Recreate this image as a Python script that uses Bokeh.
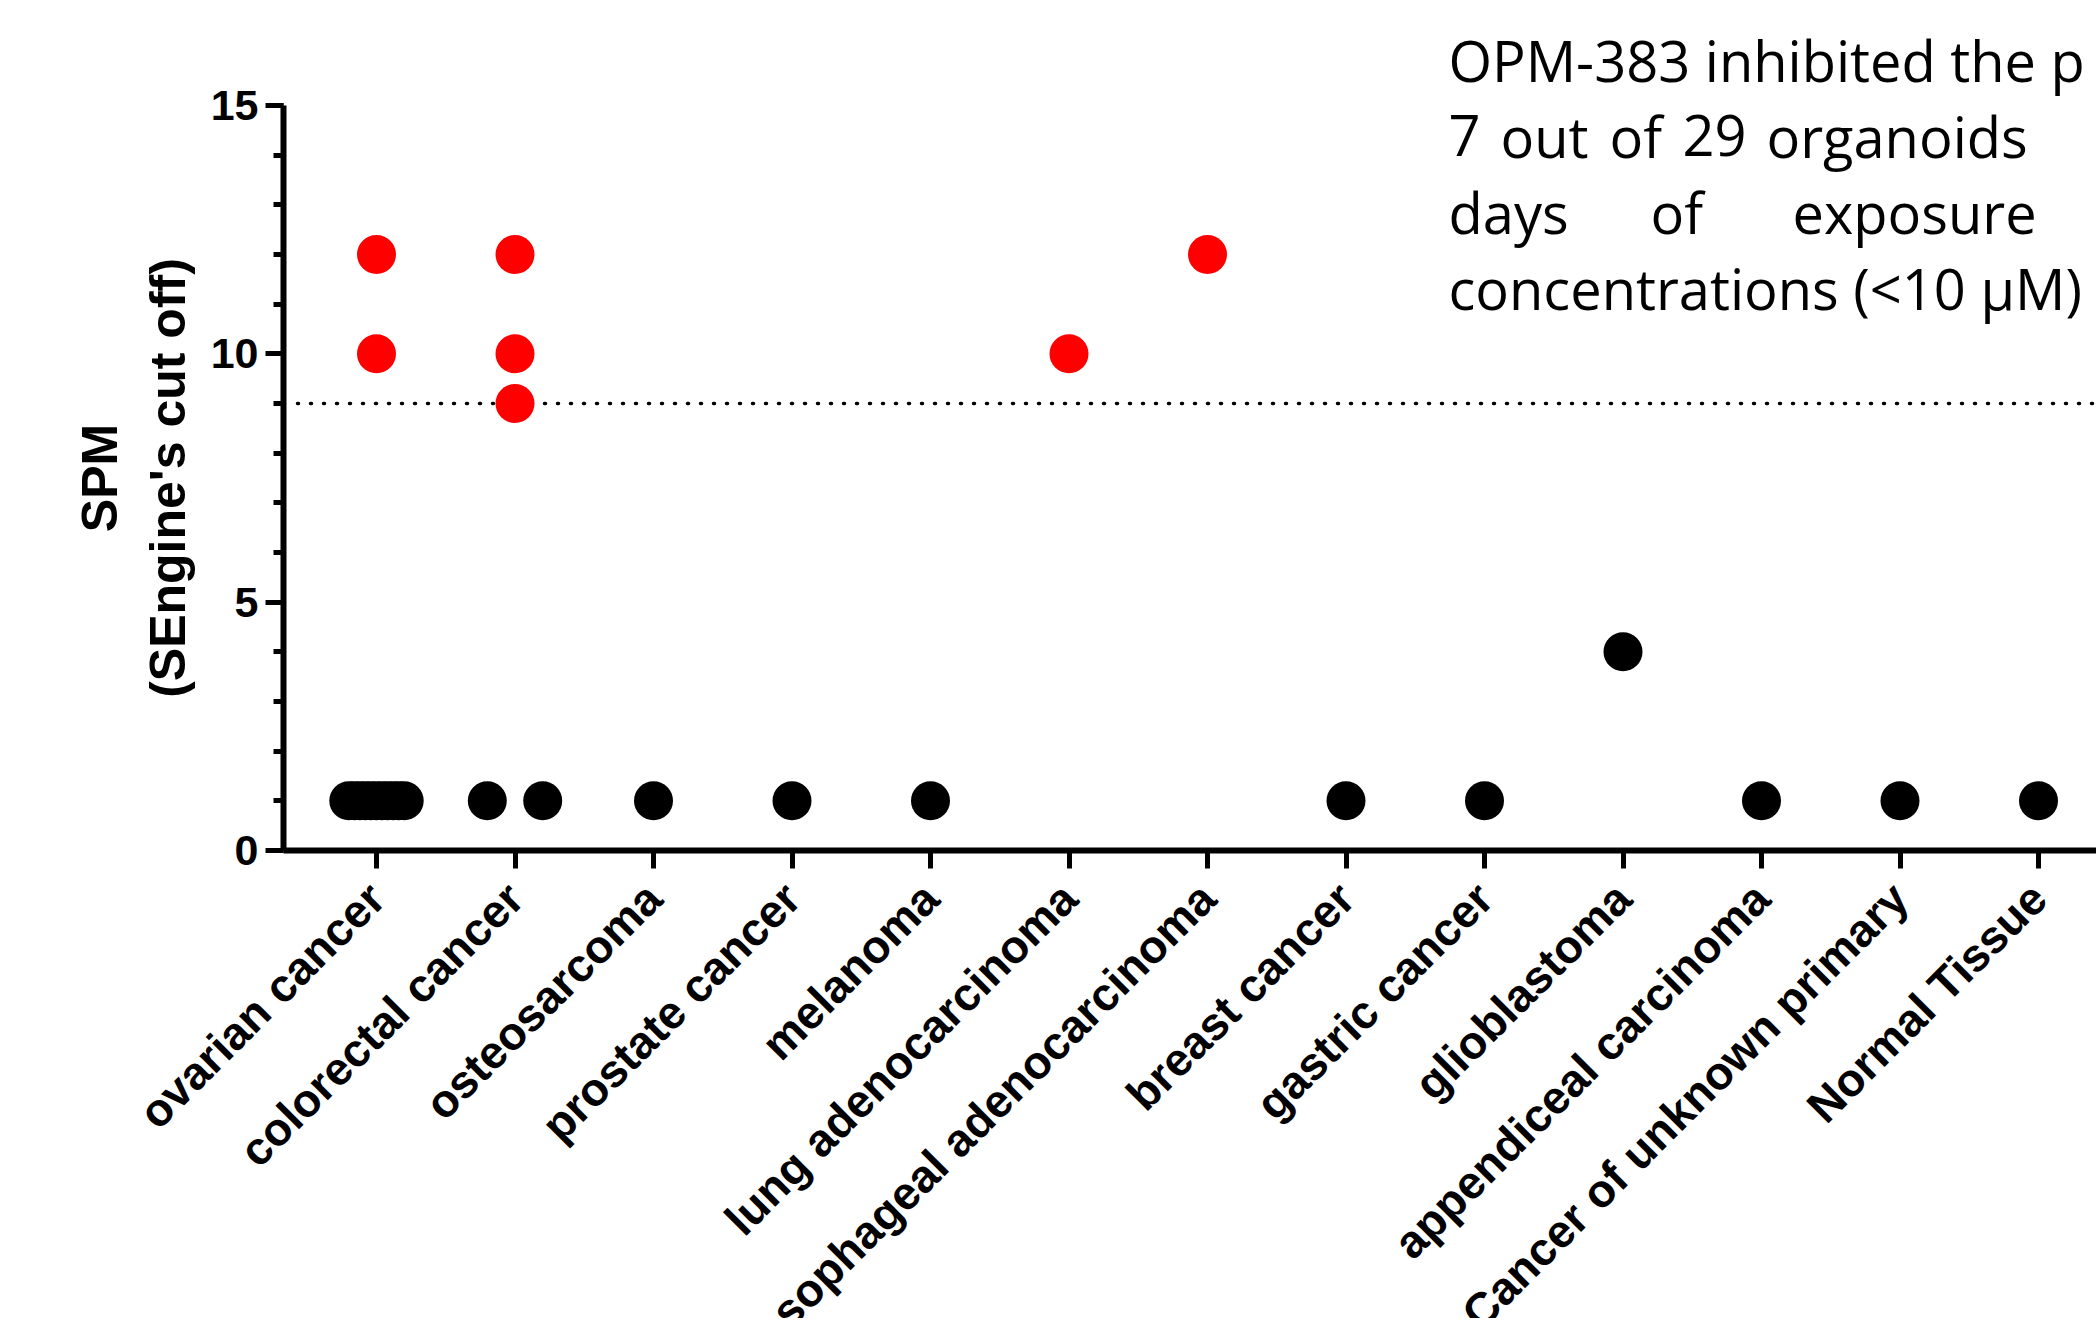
import numpy as np
from bokeh.plotting import figure
from bokeh.models import Range1d, FixedTicker, SingleIntervalTicker, Label
from bokeh.embed import file_html
from bokeh.resources import INLINE

# ---------------- data ----------------
categories = [
    "ovarian cancer", "colorectal cancer", "osteosarcoma", "prostate cancer",
    "melanoma", "lung adenocarcinoma", "esophageal adenocarcinoma",
    "breast cancer", "gastric cancer", "glioblastoma", "appendiceal carcinoma",
    "Cancer of unknown primary", "Normal Tissue",
]

# organoids above the SEngine cut off (shown in red)
red_category = [
    "ovarian cancer", "ovarian cancer",
    "colorectal cancer", "colorectal cancer", "colorectal cancer",
    "lung adenocarcinoma", "esophageal adenocarcinoma",
]
red_spm = [12, 10, 12, 10, 9, 10, 12]

# organoids below the cut off (shown in black)
black_category = [
    "ovarian cancer", "ovarian cancer", "ovarian cancer", "ovarian cancer",
    "ovarian cancer", "ovarian cancer", "ovarian cancer", "ovarian cancer",
    "ovarian cancer", "ovarian cancer", "ovarian cancer",
    "colorectal cancer", "colorectal cancer",
    "osteosarcoma", "prostate cancer", "melanoma", "breast cancer",
    "gastric cancer", "glioblastoma", "appendiceal carcinoma",
    "Cancer of unknown primary", "Normal Tissue",
]
black_spm = [1, 1, 1, 1, 1, 1, 1, 1, 1, 1, 1,
             1, 1,
             1, 1, 1, 1, 1, 4, 1, 1, 1]

cutoff = 9
y_axis_max = 15
y_label = "SPM\n(SEngine's cut off)"

# annotation text, split in the pieces that the justified block shows
annotation_lines = [
    ["OPM-383 inhibited the p"],
    ["7", "out", "of", "29", "organoids"],
    ["days", "of", "exposure"],
    ["concentrations (<10 μM)"],
]

# ---------------- layout (pixels on the page) ----------------
FIG_W, FIG_H = 2096, 1318
PX_PER_CAT = 138.5          # horizontal distance between categories
FIRST_CAT_PX = 376          # page x of the first category
ZERO_PX = 850               # page y of SPM = 0
TOP_PX = 105                # page y of SPM = 15
AXIS_PX = 283               # page x of the y axis line
PX_PER_UNIT = (ZERO_PX - TOP_PX) / y_axis_max

X_START = -FIRST_CAT_PX / PX_PER_CAT
X_END = X_START + FIG_W / PX_PER_CAT
Y_START = -(FIG_H - ZERO_PX) / PX_PER_UNIT
Y_END = ZERO_PX / PX_PER_UNIT


def px_to_x(px):
    return X_START + px / PX_PER_CAT


def px_to_y(py):
    return (ZERO_PX - py) / PX_PER_UNIT


AXIS_X = px_to_x(AXIS_PX)


def jitter(cats, vals, half=0.2):
    """GraphPad-like horizontal spreading of coincident points."""
    idx = {c: i for i, c in enumerate(categories)}
    groups = {}
    for k, (c, v) in enumerate(zip(cats, vals)):
        groups.setdefault((c, v), []).append(k)
    xs = [0.0] * len(cats)
    for (c, v), members in groups.items():
        n = len(members)
        offs = np.linspace(-half, half, n) if n > 1 else [0.0]
        for m, o in zip(members, offs):
            xs[m] = idx[c] + float(o)
    return xs


p = figure(width=FIG_W, height=FIG_H, output_backend="svg", toolbar_location=None,
           x_range=Range1d(X_START, X_END), y_range=Range1d(Y_START, Y_END),
           min_border=0)
p.outline_line_color = None
p.xgrid.grid_line_color = None
p.ygrid.grid_line_color = None
p.background_fill_color = "white"
p.border_fill_color = "white"

# cut off line (dotted)
p.line([px_to_x(AXIS_PX + 14), X_END], [cutoff, cutoff], line_color="black",
       line_width=3.5, line_dash="1 12", line_cap="round")

# points
p.scatter(jitter(black_category, black_spm), black_spm, size=39,
          fill_color="black", line_color=None, marker="circle")
p.scatter(jitter(red_category, red_spm), red_spm, size=39,
          fill_color="#FF0000", line_color=None, marker="circle")

# y axis
ya = p.yaxis[0]
ya.fixed_location = AXIS_X
ya.bounds = (0, y_axis_max)
ya.ticker = SingleIntervalTicker(interval=5, num_minor_ticks=5)
ya.axis_line_width = 6
ya.major_tick_line_width = 5
ya.minor_tick_line_width = 5
ya.major_tick_out = 18
ya.major_tick_in = 0
ya.minor_tick_out = 10
ya.minor_tick_in = 0
ya.major_label_standoff = 7
ya.major_label_text_font = "Liberation Sans"
ya.major_label_text_font_style = "bold"
ya.major_label_text_font_size = "43px"
ya.major_label_text_color = "black"
ya.axis_label = y_label
ya.axis_label_text_font = "Liberation Sans"
ya.axis_label_text_font_style = "bold"
ya.axis_label_text_font_size = "50px"
ya.axis_label_text_color = "black"
ya.axis_label_standoff = 12

# x axis
xa = p.xaxis[0]
xa.fixed_location = 0
xa.bounds = (AXIS_X, X_END)
xa.ticker = FixedTicker(ticks=list(range(len(categories))))
xa.major_label_overrides = {i: c for i, c in enumerate(categories)}
xa.major_label_orientation = np.pi / 4
xa.axis_line_width = 6
xa.major_tick_line_width = 5
xa.major_tick_out = 18
xa.major_tick_in = 0
xa.minor_tick_line_color = None
xa.major_label_standoff = 22
xa.major_label_text_font = "Liberation Sans"
xa.major_label_text_font_style = "bold"
xa.major_label_text_font_size = "46px"
xa.major_label_text_color = "black"

# annotation text (justified block, cut by the right edge as in the source)
word_px = [
    [1448],
    [1448, 1500, 1609, 1682, 1766],
    [1448, 1650, 1792],
    [1448],
]
baseline_px = [59, 135, 211, 287]

for words, xs, by in zip(annotation_lines, word_px, baseline_px):
    for w, xp in zip(words, xs):
        p.add_layout(Label(x=px_to_x(xp), y=px_to_y(by), text=w,
                           text_font="Open Sans", text_font_size="56px",
                           text_color="black", text_align="left",
                           text_baseline="alphabetic"))

open("out.html", "w").write(file_html(p, INLINE))
